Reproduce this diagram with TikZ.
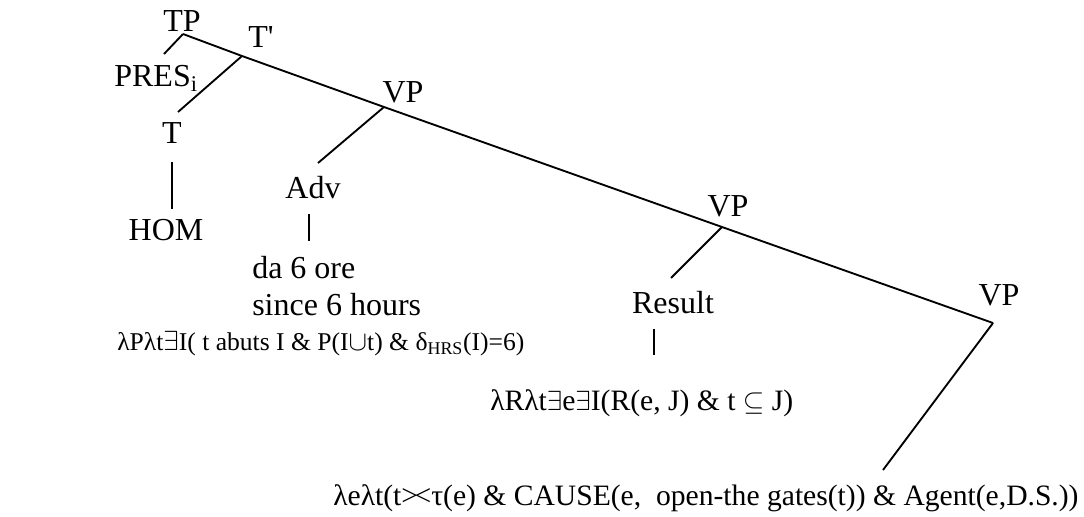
\documentclass[tikz,border=0pt]{standalone}
\usepackage{fontspec}
\setmainfont{Liberation Serif}
\newcommand{\lam}{λ}
\begin{document}
\begin{tikzpicture}[x=0.75pt, y=-0.75pt,
  cat/.style={font=\fontsize{24}{27.75}\selectfont, inner sep=0pt,
    anchor=base},
  sem/.style={font=\fontsize{22.2}{25}\selectfont, inner sep=0pt,
    anchor=base west},
  branch/.style={line width=1.4pt}]
\useasboundingbox (0,0) rectangle (1084,517);
% category labels
\node[cat] (tp) at (182,32) {TP};
\node[cat] (tbar) at (261,48) {T\textquotesingle};
\node[cat] (pres) at (156,87) {PRES\textsubscript{i}};
\node[cat] (t) at (172,143) {T};
\node[cat] (hom) at (166,240) {HOM};
\node[cat] (vpa) at (403,102) {VP};
\node[cat] (adv) at (313,198) {Adv};
\node[cat, anchor=base west] (gloss) at (252,278) {da 6 ore};
\node[cat, anchor=base west] (transl) at (252,315) {since 6 hours};
\node[cat] (vpb) at (728,216) {VP};
\node[cat] (result) at (673,313) {Result};
\node[cat] (vpc) at (999,305) {VP};
% denotations
\node[sem, font=\fontsize{19.2}{22}\selectfont] (advsem) at (117,350)
  {\lam P\lam t$\exists$I( t abuts I \& P(I$\cup$t) \& δ\textsubscript{HRS}(I)=6)};
\node[sem] (ressem) at (490,410)
  {\lam R\lam t$\exists$e$\exists$I(R(e, J) \& t $\subseteq$ J)};
\node[sem] (vpsem) at (333,505)
  {\lam e\lam t(t>\kern-0.12em<τ(e) \& CAUSE(e, \ open-the gates(t)) \& Agent(e,D.S.))};
% branch points
\coordinate (tp-j) at (183,34);
\coordinate (tbar-j) at (242,56);
\coordinate (vpa-j) at (384,107);
\coordinate (vpb-j) at (722,227);
\coordinate (vpc-j) at (993,323);
\coordinate (pres-j) at (164,54);
\coordinate (t-j) at (178,112);
\coordinate (adv-j) at (318,163);
\coordinate (result-j) at (671,278);
\coordinate (vpsem-j) at (883,470);
\coordinate (t-b) at (172,162);
\coordinate (hom-j) at (172,209);
\coordinate (adv-b) at (309,214);
\coordinate (gloss-j) at (309,241);
\coordinate (result-b) at (654,329);
\coordinate (ressem-j) at (654,355);
\draw[branch] (tp-j) -- (tbar-j) -- (vpa-j) -- (vpb-j) -- (vpc-j);
\draw[branch] (tp-j) -- (pres-j);
\draw[branch] (tbar-j) -- (t-j);
\draw[branch] (t-b) -- (hom-j);
\draw[branch] (vpa-j) -- (adv-j);
\draw[branch] (adv-b) -- (gloss-j);
\draw[branch] (vpb-j) -- (result-j);
\draw[branch] (result-b) -- (ressem-j);
\draw[branch] (vpc-j) -- (vpsem-j);
\end{tikzpicture}
\end{document}
